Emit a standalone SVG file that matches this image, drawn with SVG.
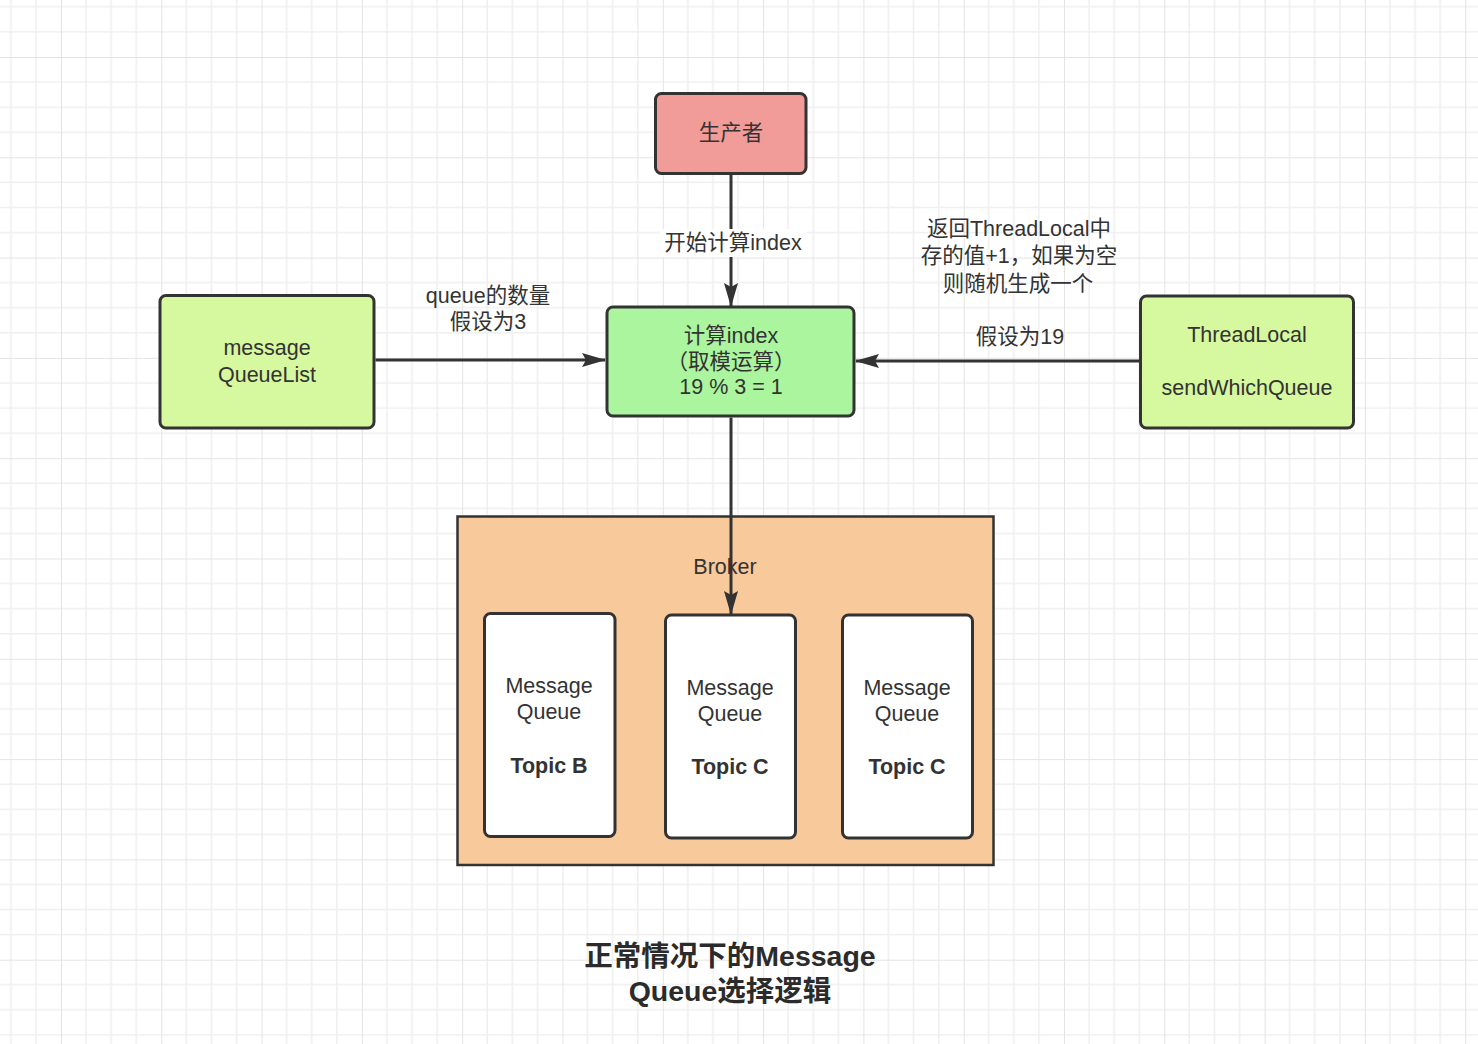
<svg xmlns="http://www.w3.org/2000/svg" width="1478" height="1044" viewBox="0 0 1478 1044">
<defs>
<pattern id="grid" x="61" y="57" width="100.3" height="100.3" patternUnits="userSpaceOnUse">
<path d="M25.075,0V100.3M50.15,0V100.3M75.225,0V100.3M0,25.075H100.3M0,50.15H100.3M0,75.225H100.3" stroke="#efefef" stroke-width="1.6" fill="none"/>
<path d="M0,0V100.3M0,0H100.3" stroke="#e4e4e4" stroke-width="2" fill="none"/>
</pattern>
<marker id="arr" viewBox="0 0 24 16" refX="23" refY="8" markerWidth="24" markerHeight="16" markerUnits="userSpaceOnUse" orient="auto">
<path d="M0,1 L24,8 L0,15 L4,8 Z" fill="#333"/>
</marker>
</defs>
<style>
.node{stroke:#333;stroke-width:3}
.t{font-family:"Liberation Sans","Noto Sans CJK SC",sans-serif;font-size:21.5px;fill:#333;text-anchor:middle;dominant-baseline:central}
.b{font-weight:bold}
.title{font-family:"Liberation Sans","Noto Sans CJK SC",sans-serif;font-size:28.5px;font-weight:bold;fill:#2b2b2b;text-anchor:middle}
.edge{stroke:#333;stroke-width:3;fill:none}
</style>
<rect width="1478" height="1044" fill="#ffffff"/>
<rect width="1478" height="1044" fill="url(#grid)"/>

<g id="broker">
<rect x="457.5" y="516.5" width="536" height="348.5" fill="#f7c99b" stroke="#333" stroke-width="2.5"/>
<text class="t" x="725" y="567">Broker</text>
</g>
<g id="mq1">
<rect class="node" x="484.5" y="613.5" width="130.5" height="223" rx="6" fill="#ffffff"/>
<text class="t" x="549" y="686">Message</text>
<text class="t" x="549" y="712">Queue</text>
<text class="t b" x="549" y="766">Topic B</text>
</g>
<g id="mq2">
<rect class="node" x="665.5" y="615" width="130" height="223" rx="6" fill="#ffffff"/>
<text class="t" x="730" y="688">Message</text>
<text class="t" x="730" y="714">Queue</text>
<text class="t b" x="730" y="767">Topic C</text>
</g>
<g id="mq3">
<rect class="node" x="842.5" y="615" width="130" height="223" rx="6" fill="#ffffff"/>
<text class="t" x="907" y="688">Message</text>
<text class="t" x="907" y="714">Queue</text>
<text class="t b" x="907" y="767">Topic C</text>
</g>

<g id="producer">
<rect class="node" x="655.5" y="93.5" width="150.5" height="80" rx="6" fill="#f19c99"/>
<text class="t" x="731" y="133">生产者</text>
</g>
<g id="compute">
<rect class="node" x="607" y="307" width="247" height="109" rx="6" fill="#aaf59e"/>
<text class="t" x="731" y="336">计算index</text>
<text class="t" x="731" y="362">（取模运算）</text>
<text class="t" x="731" y="387">19 % 3 = 1</text>
</g>
<g id="queuelist">
<rect class="node" x="160" y="295.5" width="214" height="132.5" rx="6" fill="#d6f89e"/>
<text class="t" x="267" y="348">message</text>
<text class="t" x="267" y="375">QueueList</text>
</g>
<g id="threadlocal">
<rect class="node" x="1140.5" y="296" width="213" height="132" rx="6" fill="#d6f89e"/>
<text class="t" x="1247" y="335">ThreadLocal</text>
<text class="t" x="1247" y="388">sendWhichQueue</text>
</g>

<g id="connectors">
<line class="edge" x1="731" y1="175" x2="731" y2="306" marker-end="url(#arr)"/>
<rect x="660" y="229" width="147" height="28" fill="#ffffff"/>
<text class="t" x="733" y="243">开始计算index</text>
<line class="edge" x1="375.5" y1="360" x2="605" y2="360" marker-end="url(#arr)"/>
<text class="t" x="488" y="296">queue的数量</text>
<text class="t" x="488" y="322">假设为3</text>
<line class="edge" x1="1139" y1="361" x2="856" y2="361" marker-end="url(#arr)"/>
<text class="t" x="1020" y="337">假设为19</text>
<text class="t" x="1019" y="229">返回ThreadLocal中</text>
<text class="t" x="1019" y="256">存的值+1，如果为空</text>
<text class="t" x="1018" y="284">则随机生成一个</text>
<line class="edge" x1="731" y1="417.5" x2="731" y2="614" marker-end="url(#arr)"/>
</g>

<g id="title">
<text class="title" x="730" y="966">正常情况下的Message</text>
<text class="title" x="730" y="1001">Queue选择逻辑</text>
</g>
</svg>
